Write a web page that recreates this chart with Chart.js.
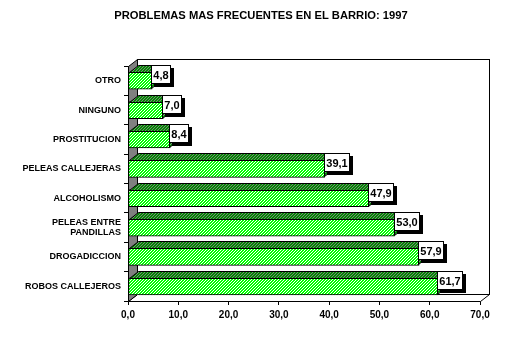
<!DOCTYPE html>
<html>
<head>
<meta charset="utf-8">
<script src="https://cdn.jsdelivr.net/npm/chart.js@4"></script>
<style>
  html, body { margin: 0; padding: 0; background: #fff; }
  #wrap { width: 511px; height: 364px; }
</style>
</head>
<body>
<div id="wrap"><canvas id="bar-chart" width="511" height="364"></canvas></div>
<script>
// chart data
const categories = [
  'OTRO',
  'NINGUNO',
  'PROSTITUCION',
  'PELEAS CALLEJERAS',
  'ALCOHOLISMO',
  ['PELEAS ENTRE', 'PANDILLAS'],
  'DROGADICCION',
  'ROBOS CALLEJEROS',
];
const values = [4.8, 7.0, 8.4, 39.1, 47.9, 53.0, 57.9, 61.7];
const xTicks = [0, 10, 20, 30, 40, 50, 60, 70];
const chartTitle = 'PROBLEMAS MAS FRECUENTES EN EL BARRIO: 1997';

// depth of the fake 3d look
const depth = { dx: 9, dy: 7 };

function fmt(v) {
  return v.toFixed(1).replace('.', ',');
}

// diagonal hatch pattern
function hatch(c1, c2, period, on) {
  const p = document.createElement('canvas');
  p.width = period;
  p.height = period;
  const g = p.getContext('2d');
  for (let x = 0; x < period; x++) {
    for (let y = 0; y < period; y++) {
      g.fillStyle = (x + y) % period < on ? c1 : c2;
      g.fillRect(x, y, 1, 1);
    }
  }
  return g.createPattern(p, 'repeat');
}

const frontFill = hatch('#00ff00', '#ffffff', 3, 2);
const topFill = hatch('#008c00', '#808080', 3, 2);

// title sits a bit right of the canvas centre, like the original
const titleText = {
  id: 'titleText',
  afterDraw(chart) {
    const { ctx } = chart;
    ctx.save();
    ctx.font = 'bold 11.2px "Liberation Sans", Arial, sans-serif';
    ctx.fillStyle = '#000';
    ctx.textAlign = 'center';
    ctx.textBaseline = 'middle';
    ctx.fillText(chartTitle, 261, 16);
    ctx.restore();
  },
};

// walls, floor, bar tops and the value boxes
const box3d = {
  id: 'box3d',
  beforeDatasetsDraw(chart) {
    const { ctx, chartArea: a } = chart;
    const { dx, dy } = depth;
    ctx.save();
    ctx.lineWidth = 1;
    ctx.strokeStyle = '#000';
    // back wall
    ctx.fillStyle = '#fff';
    ctx.fillRect(a.left + dx, a.top - dy, a.right - a.left, a.bottom - a.top);
    ctx.strokeRect(a.left + dx + 0.5, a.top - dy + 0.5, a.right - a.left, a.bottom - a.top);
    // floor
    ctx.beginPath();
    ctx.moveTo(a.left + 0.5, a.bottom + 0.5);
    ctx.lineTo(a.right + 0.5, a.bottom + 0.5);
    ctx.lineTo(a.right + dx + 0.5, a.bottom - dy + 0.5);
    ctx.lineTo(a.left + dx + 0.5, a.bottom - dy + 0.5);
    ctx.closePath();
    ctx.fill();
    ctx.stroke();
    // left wall
    ctx.fillStyle = '#808080';
    ctx.beginPath();
    ctx.moveTo(a.left + 0.5, a.top + 0.5);
    ctx.lineTo(a.left + dx + 0.5, a.top - dy + 0.5);
    ctx.lineTo(a.left + dx + 0.5, a.bottom - dy + 0.5);
    ctx.lineTo(a.left + 0.5, a.bottom + 0.5);
    ctx.closePath();
    ctx.fill();
    ctx.stroke();
    ctx.restore();
  },
  afterDatasetsDraw(chart) {
    const { ctx } = chart;
    const { dx, dy } = depth;
    const meta = chart.getDatasetMeta(0);
    ctx.save();
    ctx.lineWidth = 1;
    ctx.strokeStyle = '#000';
    meta.data.forEach((bar) => {
      const top = Math.round(bar.y - bar.height / 2) + 0.5;
      const bot = Math.round(bar.y + bar.height / 2) - 0.5;
      const x0 = Math.round(bar.base) + 0.5;
      const x1 = Math.round(bar.x) - 0.5;
      // top face
      ctx.fillStyle = topFill;
      ctx.beginPath();
      ctx.moveTo(x0, top);
      ctx.lineTo(x1, top);
      ctx.lineTo(x1 + dx, top - dy);
      ctx.lineTo(x0 + dx, top - dy);
      ctx.closePath();
      ctx.fill();
      ctx.stroke();
      // end face
      ctx.beginPath();
      ctx.moveTo(x1, top);
      ctx.lineTo(x1 + dx, top - dy);
      ctx.lineTo(x1 + dx, bot - dy);
      ctx.lineTo(x1, bot);
      ctx.closePath();
      ctx.fill();
      ctx.stroke();
    });

    // value boxes
    ctx.font = 'bold 11px "Liberation Sans", Arial, sans-serif';
    ctx.textAlign = 'center';
    ctx.textBaseline = 'middle';
    meta.data.forEach((bar, i) => {
      const txt = fmt(values[i]);
      const w = Math.round(ctx.measureText(txt).width) + 5;
      const h = 19;
      const bx = Math.round(bar.x) - 1;
      const by = Math.round(bar.y - 6 - h / 2);
      ctx.fillStyle = '#000';
      ctx.fillRect(bx + 3, by + 3, w, h);
      ctx.fillStyle = '#fff';
      ctx.fillRect(bx, by, w, h);
      ctx.strokeRect(bx + 0.5, by + 0.5, w - 1, h - 1);
      ctx.fillStyle = '#000';
      ctx.fillText(txt, bx + w / 2, by + h / 2 + 1);
    });
    ctx.restore();
  },
};

const barCtx = document.getElementById('bar-chart').getContext('2d');

new Chart(barCtx, {
  type: 'bar',
  data: {
    labels: categories,
    datasets: [
      {
        data: values,
        backgroundColor: frontFill,
        borderColor: '#000',
        borderWidth: 1,
        borderSkipped: false,
        barThickness: 17,
      },
    ],
  },
  options: {
    indexAxis: 'y',
    responsive: false,
    animation: false,
    layout: { padding: { top: 66, right: 31, bottom: 0, left: 0 } },
    plugins: {
      legend: { display: false },
      tooltip: { enabled: false },
      title: { display: false },
    },
    scales: {
      x: {
        min: 0,
        max: 70,
        afterFit(scale) {
          scale.height = 63;
        },
        afterBuildTicks(scale) {
          scale.ticks = xTicks.map((v) => ({ value: v }));
        },
        grid: {
          drawOnChartArea: false,
          tickLength: 4,
          color: '#000',
        },
        border: { color: '#000', width: 1 },
        ticks: {
          color: '#000',
          padding: 4,
          maxRotation: 0,
          font: { family: '"Liberation Sans", Arial, sans-serif', size: 10, weight: 'bold' },
          callback: (v) => fmt(v),
        },
      },
      y: {
        afterFit(scale) {
          scale.width = 128;
        },
        grid: {
          drawOnChartArea: false,
          tickLength: 4,
          color: '#000',
        },
        border: { color: '#000', width: 1 },
        ticks: {
          color: '#000',
          padding: 3,
          font: { family: '"Liberation Sans", Arial, sans-serif', size: 9, weight: 'bold', lineHeight: 1.1 },
        },
      },
    },
  },
  plugins: [box3d, titleText],
});
</script>
</body>
</html>
